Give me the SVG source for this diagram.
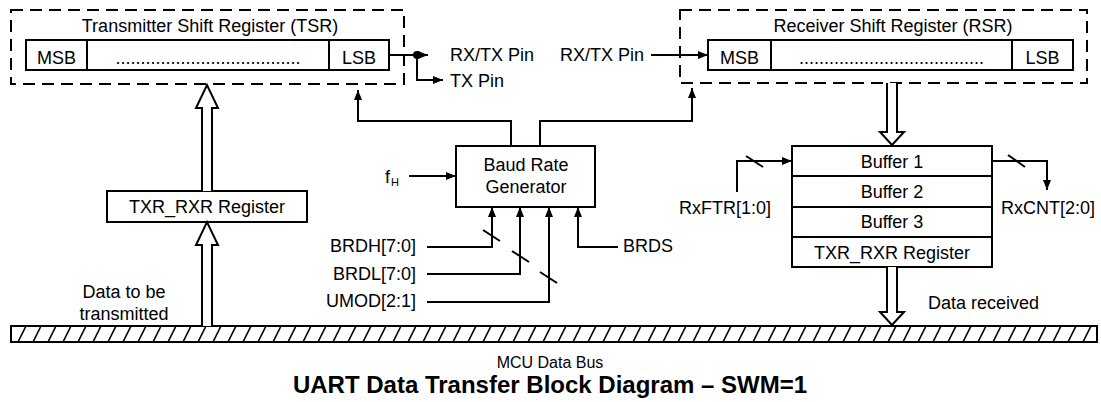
<svg xmlns="http://www.w3.org/2000/svg" width="1101" height="402" viewBox="0 0 1101 402">
<style>
text{font-family:"Liberation Sans",Arial,sans-serif;font-size:18px;fill:#000}
.c{text-anchor:middle}
.r{text-anchor:end}
.b{font-weight:bold}
.box{fill:#fff;stroke:#000;stroke-width:2}
.dash{fill:none;stroke:#000;stroke-width:2;stroke-dasharray:12 7}
.ln{fill:none;stroke:#000;stroke-width:2}
.hol{fill:#fff;stroke:#000;stroke-width:2;stroke-linejoin:miter}
</style>
<defs>
<marker id="ah" markerUnits="userSpaceOnUse" markerWidth="11" markerHeight="9" refX="10" refY="4" orient="auto">
<path d="M0,0 L10,4 L0,8 z" fill="#000"/>
</marker>
<pattern id="hatch" patternUnits="userSpaceOnUse" x="0" y="326" width="15" height="16">
<line x1="3" y1="16" x2="11" y2="0" stroke="#000" stroke-width="1.6"/>
</pattern>
</defs>

<g id="tsr">
<rect class="dash" x="11" y="10" width="393" height="74"/>
<text class="c" x="210" y="32">Transmitter Shift Register (TSR)</text>
<rect class="box" x="26" y="40" width="363" height="30"/>
<line class="ln" x1="87" y1="40" x2="87" y2="70"/>
<line class="ln" x1="329" y1="40" x2="329" y2="70"/>
<text class="c" x="56.5" y="64">MSB</text>
<text class="c" x="208" y="64">.....................................</text>
<text class="c" x="359" y="64">LSB</text>
</g>

<g id="rsr">
<rect class="dash" x="680" y="10" width="407" height="73"/>
<text class="c" x="893" y="32">Receiver Shift Register (RSR)</text>
<rect class="box" x="708" y="40" width="365" height="30"/>
<line class="ln" x1="771" y1="40" x2="771" y2="70"/>
<line class="ln" x1="1012" y1="40" x2="1012" y2="70"/>
<text class="c" x="739.5" y="64">MSB</text>
<text class="c" x="891.5" y="64">.....................................</text>
<text class="c" x="1042.5" y="64">LSB</text>
</g>

<g id="txr_left">
<rect class="box" x="107" y="191" width="200" height="31"/>
<text class="c" x="207" y="213">TXR_RXR Register</text>
</g>

<g id="brg">
<rect class="box" x="456" y="146" width="139" height="61"/>
<text class="c" x="526" y="171">Baud Rate</text>
<text class="c" x="526" y="193">Generator</text>
</g>

<g id="buffers">
<rect class="box" x="792" y="146" width="200" height="121"/>
<line class="ln" x1="792" y1="176" x2="992" y2="176"/>
<line class="ln" x1="792" y1="207" x2="992" y2="207"/>
<line class="ln" x1="792" y1="237" x2="992" y2="237"/>
<text class="c" x="892" y="168">Buffer 1</text>
<text class="c" x="892" y="198">Buffer 2</text>
<text class="c" x="892" y="228">Buffer 3</text>
<text class="c" x="892" y="259">TXR_RXR Register</text>
</g>

<g id="bus">
<rect x="11" y="326" width="1086" height="16" fill="url(#hatch)" stroke="#000" stroke-width="2"/>
<text class="c" x="550" y="368" style="font-size:16px">MCU Data Bus</text>
</g>

<g id="connectors">
<path class="ln" d="M389,55 H428" marker-end="url(#ah)"/>
<path class="ln" d="M417,55 V80 H443" marker-end="url(#ah)"/>
<circle cx="417" cy="55" r="4" fill="#000"/>
<path class="ln" d="M651,55 H708" marker-end="url(#ah)"/>
<path class="ln" d="M511,146 V121 H358 V90" marker-end="url(#ah)"/>
<path class="ln" d="M540,146 V121 H692 V88" marker-end="url(#ah)"/>
<path class="ln" d="M409,176 H456" marker-end="url(#ah)"/>
<path class="ln" d="M427,247 H492 V207" marker-end="url(#ah)"/>
<path class="ln" d="M427,274 H520 V207" marker-end="url(#ah)"/>
<path class="ln" d="M427,302 H549 V207" marker-end="url(#ah)"/>
<path class="ln" d="M618,247 H578 V207" marker-end="url(#ah)"/>
<line class="ln" x1="483" y1="230" x2="500" y2="241"/>
<line class="ln" x1="512" y1="251" x2="529" y2="262"/>
<line class="ln" x1="540" y1="272" x2="557" y2="283"/>
<path class="ln" d="M737,192 V161 H792" marker-end="url(#ah)"/>
<line class="ln" x1="746" y1="156" x2="763" y2="167"/>
<path class="ln" d="M992,161 H1047 V190" marker-end="url(#ah)"/>
<line class="ln" x1="1008" y1="155" x2="1025" y2="167"/>
<path class="hol" d="M202,191 V108 H196 L207,85 L218,108 H212 V191"/>
<path class="hol" d="M202,326 V245 H196 L207,222 L218,245 H212 V326"/>
<path class="hol" d="M887,83 V132 H880 L892,145 L904,132 H897 V83"/>
<path class="hol" d="M887,267 V312 H880 L892,325 L904,312 H897 V267"/>
</g>

<g id="labels">
<text x="450" y="61">RX/TX Pin</text>
<text x="450" y="87">TX Pin</text>
<text x="560" y="61">RX/TX Pin</text>
<text x="385" y="183">f<tspan x="391" y="186" style="font-size:11px">H</tspan></text>
<text class="r" x="416" y="252">BRDH[7:0]</text>
<text class="r" x="416" y="280">BRDL[7:0]</text>
<text class="r" x="416" y="307">UMOD[2:1]</text>
<text x="623" y="252">BRDS</text>
<text class="c" x="725" y="214">RxFTR[1:0]</text>
<text class="c" x="1048" y="214">RxCNT[2:0]</text>
<text class="c" x="124" y="298">Data to be</text>
<text class="c" x="124" y="320">transmitted</text>
<text x="928" y="309">Data received</text>
<text class="c b" x="550" y="393" style="font-size:24px">UART Data Transfer Block Diagram – SWM=1</text>
</g>
</svg>
